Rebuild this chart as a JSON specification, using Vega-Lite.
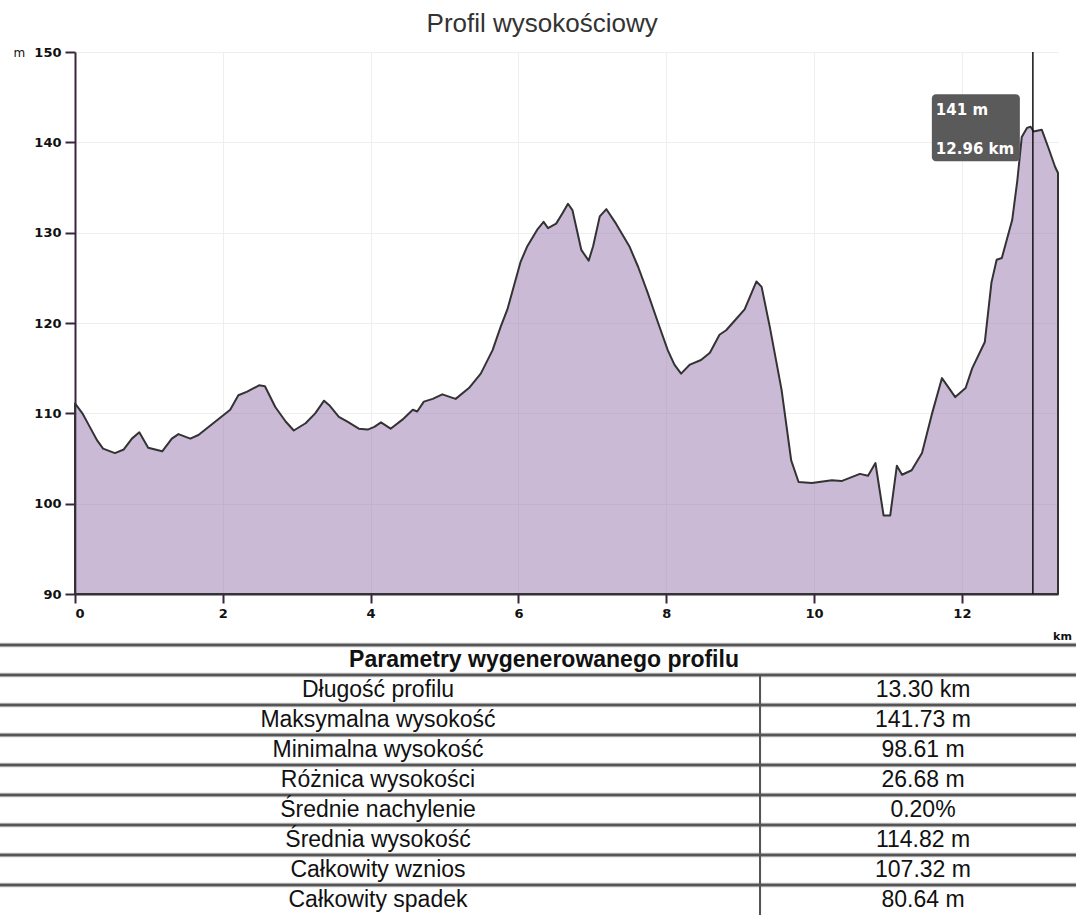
{
  "$schema": "https://vega.github.io/schema/vega-lite/v6.json",
  "padding": {"left": -3, "top": 11, "right": 0, "bottom": 0},
  "background": "white",
  "spacing": 1,
  "config": {"view": {"stroke": null}},
  "datasets": {
    "profile": [
      {"km": 0.00, "elev": 111.1}, {"km": 0.10, "elev": 110.0}, {"km": 0.20, "elev": 108.5}, {"km": 0.30, "elev": 107.0},
      {"km": 0.38, "elev": 106.1}, {"km": 0.54, "elev": 105.6}, {"km": 0.66, "elev": 106.0}, {"km": 0.77, "elev": 107.2},
      {"km": 0.87, "elev": 107.9}, {"km": 0.99, "elev": 106.2}, {"km": 1.18, "elev": 105.8}, {"km": 1.31, "elev": 107.2},
      {"km": 1.40, "elev": 107.7}, {"km": 1.56, "elev": 107.2}, {"km": 1.67, "elev": 107.6}, {"km": 1.90, "elev": 109.1},
      {"km": 2.10, "elev": 110.4}, {"km": 2.21, "elev": 112.0}, {"km": 2.33, "elev": 112.4}, {"km": 2.49, "elev": 113.1},
      {"km": 2.57, "elev": 113.0}, {"km": 2.71, "elev": 110.7}, {"km": 2.85, "elev": 109.1}, {"km": 2.96, "elev": 108.1},
      {"km": 3.12, "elev": 108.9}, {"km": 3.25, "elev": 110.0}, {"km": 3.37, "elev": 111.4}, {"km": 3.44, "elev": 110.9},
      {"km": 3.57, "elev": 109.6}, {"km": 3.68, "elev": 109.1}, {"km": 3.84, "elev": 108.3}, {"km": 3.96, "elev": 108.2},
      {"km": 4.05, "elev": 108.5}, {"km": 4.14, "elev": 109.0}, {"km": 4.27, "elev": 108.3}, {"km": 4.43, "elev": 109.3},
      {"km": 4.57, "elev": 110.4}, {"km": 4.63, "elev": 110.2}, {"km": 4.72, "elev": 111.3}, {"km": 4.84, "elev": 111.6},
      {"km": 4.97, "elev": 112.1}, {"km": 5.15, "elev": 111.6}, {"km": 5.33, "elev": 112.8}, {"km": 5.49, "elev": 114.4},
      {"km": 5.65, "elev": 117.0}, {"km": 5.76, "elev": 119.6}, {"km": 5.85, "elev": 121.5}, {"km": 6.03, "elev": 126.8},
      {"km": 6.12, "elev": 128.5}, {"km": 6.26, "elev": 130.4}, {"km": 6.34, "elev": 131.2}, {"km": 6.40, "elev": 130.5},
      {"km": 6.51, "elev": 131.0}, {"km": 6.60, "elev": 132.2}, {"km": 6.67, "elev": 133.2}, {"km": 6.73, "elev": 132.5},
      {"km": 6.85, "elev": 128.1}, {"km": 6.95, "elev": 126.9}, {"km": 7.01, "elev": 128.5}, {"km": 7.10, "elev": 131.8},
      {"km": 7.19, "elev": 132.6}, {"km": 7.32, "elev": 131.0}, {"km": 7.50, "elev": 128.5}, {"km": 7.62, "elev": 126.2},
      {"km": 7.75, "elev": 123.3}, {"km": 7.89, "elev": 120.0}, {"km": 8.02, "elev": 117.0}, {"km": 8.11, "elev": 115.4},
      {"km": 8.20, "elev": 114.4}, {"km": 8.32, "elev": 115.4}, {"km": 8.47, "elev": 115.9}, {"km": 8.59, "elev": 116.7},
      {"km": 8.72, "elev": 118.7}, {"km": 8.81, "elev": 119.2}, {"km": 8.93, "elev": 120.3}, {"km": 9.06, "elev": 121.5},
      {"km": 9.22, "elev": 124.6}, {"km": 9.29, "elev": 124.0}, {"km": 9.40, "elev": 119.6}, {"km": 9.56, "elev": 112.6},
      {"km": 9.69, "elev": 104.8}, {"km": 9.79, "elev": 102.4}, {"km": 9.97, "elev": 102.3}, {"km": 10.24, "elev": 102.6},
      {"km": 10.37, "elev": 102.5}, {"km": 10.62, "elev": 103.3}, {"km": 10.73, "elev": 103.1}, {"km": 10.83, "elev": 104.5},
      {"km": 10.94, "elev": 98.7}, {"km": 11.03, "elev": 98.7}, {"km": 11.12, "elev": 104.2}, {"km": 11.19, "elev": 103.2},
      {"km": 11.32, "elev": 103.7}, {"km": 11.46, "elev": 105.6}, {"km": 11.59, "elev": 109.8}, {"km": 11.73, "elev": 113.9},
      {"km": 11.91, "elev": 111.8}, {"km": 12.05, "elev": 112.8}, {"km": 12.14, "elev": 115.0}, {"km": 12.31, "elev": 117.9},
      {"km": 12.40, "elev": 124.5}, {"km": 12.47, "elev": 127.0}, {"km": 12.54, "elev": 127.2}, {"km": 12.68, "elev": 131.4},
      {"km": 12.75, "elev": 135.8}, {"km": 12.81, "elev": 140.6}, {"km": 12.88, "elev": 141.6}, {"km": 12.93, "elev": 141.73},
      {"km": 12.97, "elev": 141.2}, {"km": 13.08, "elev": 141.4}, {"km": 13.17, "elev": 139.4}, {"km": 13.26, "elev": 137.3},
      {"km": 13.30, "elev": 136.6}
    ],
    "hover": [
      {"km": 12.96, "elev": 141, "hlab": "141 m", "dlab": "12.96 km"}
    ],
    "table": [
      {"param": "Parametry wygenerowanego profilu", "val": "", "kind": "header"},
      {"param": "Długość profilu", "val": "13.30 km", "kind": "row"},
      {"param": "Maksymalna wysokość", "val": "141.73 m", "kind": "row"},
      {"param": "Minimalna wysokość", "val": "98.61 m", "kind": "row"},
      {"param": "Różnica wysokości", "val": "26.68 m", "kind": "row"},
      {"param": "Średnie nachylenie", "val": "0.20%", "kind": "row"},
      {"param": "Średnia wysokość", "val": "114.82 m", "kind": "row"},
      {"param": "Całkowity wznios", "val": "107.32 m", "kind": "row"},
      {"param": "Całkowity spadek", "val": "80.64 m", "kind": "row"}
    ]
  },
  "vconcat": [
    {
      "width": 983,
      "height": 542,
      "title": {
        "text": "Profil wysokościowy",
        "font": "Liberation Sans",
        "fontSize": 26,
        "fontWeight": "normal",
        "color": "#333333",
        "anchor": "middle",
        "frame": "bounds",
        "baseline": "alphabetic",
        "offset": -12
      },
      "layer": [
        {
          "data": {"name": "profile"},
          "mark": {"type": "area", "fill": "#a082b4", "fillOpacity": 0.55, "stroke": "#333333", "strokeWidth": 2, "strokeJoin": "round"},
          "encoding": {
            "x": {
              "field": "km", "type": "quantitative",
              "scale": {"domain": [0, 13.3], "nice": false, "zero": false},
              "axis": {
                "values": [0, 2, 4, 6, 8, 10, 12],
                "format": "d",
                "title": "km",
                "titleX": 987, "titleY": 42, "titleAlign": "center", "titleBaseline": "middle",
                "titleFont": "DejaVu Sans", "titleFontSize": 11, "titleFontWeight": "bold", "titleColor": "#111",
                "labelFont": "DejaVu Sans", "labelFontSize": 13, "labelFontWeight": "bold", "labelColor": "#111",
                "labelPadding": 4,
                "domainColor": "#3b2440", "domainWidth": 2,
                "tickColor": "#3b2440", "tickWidth": 2, "tickSize": 9,
                "grid": true, "gridColor": "#eeeeee", "gridWidth": 1
              }
            },
            "y": {
              "field": "elev", "type": "quantitative",
              "scale": {"domain": [90, 150], "nice": false, "zero": false},
              "axis": {
                "values": [90, 100, 110, 120, 130, 140, 150],
                "title": "m",
                "titleAngle": 0, "titleX": -62, "titleY": 0, "titleAlign": "left", "titleBaseline": "middle",
                "titleFont": "DejaVu Sans", "titleFontSize": 12, "titleFontWeight": "normal", "titleColor": "#111",
                "labelFont": "DejaVu Sans", "labelFontSize": 13, "labelFontWeight": "bold", "labelColor": "#111",
                "labelPadding": 4,
                "domainColor": "#3b2440", "domainWidth": 2,
                "tickColor": "#3b2440", "tickWidth": 2, "tickSize": 10,
                "grid": true, "gridColor": "#eeeeee", "gridWidth": 1
              }
            },
            "y2": {"datum": 90}
          }
        },
        {
          "data": {"name": "hover"},
          "mark": {"type": "rule", "color": "#111111", "strokeWidth": 1.5},
          "encoding": {
            "x": {"field": "km", "type": "quantitative"}
          }
        },
        {
          "data": {"name": "hover"},
          "mark": {"type": "rect", "fill": "#5a5a5a", "cornerRadius": 4, "xOffset": -101, "x2Offset": -13, "yOffset": -39, "y2Offset": 28},
          "encoding": {
            "x": {"field": "km", "type": "quantitative"},
            "x2": {"field": "km"},
            "y": {"field": "elev", "type": "quantitative"},
            "y2": {"field": "elev"}
          }
        },
        {
          "data": {"name": "hover"},
          "mark": {"type": "text", "color": "white", "font": "DejaVu Sans", "fontSize": 15, "fontWeight": "bold", "align": "left", "baseline": "middle", "dx": -97, "dy": -23},
          "encoding": {
            "x": {"field": "km", "type": "quantitative"},
            "y": {"field": "elev", "type": "quantitative"},
            "text": {"field": "hlab"}
          }
        },
        {
          "data": {"name": "hover"},
          "mark": {"type": "text", "color": "white", "font": "DejaVu Sans", "fontSize": 15, "fontWeight": "bold", "align": "left", "baseline": "middle", "dx": -97, "dy": 16},
          "encoding": {
            "x": {"field": "km", "type": "quantitative"},
            "y": {"field": "elev", "type": "quantitative"},
            "text": {"field": "dlab"}
          }
        }
      ]
    },
    {
      "width": 983,
      "height": 270,
      "data": {"name": "table"},
      "layer": [
        {
          "mark": {"type": "rule", "color": "#bdbdbd", "strokeWidth": 4.5},
          "encoding": {
            "y": {"field": "param", "type": "nominal", "sort": null, "bandPosition": 0, "axis": null,
                  "scale": {"type": "band", "paddingInner": 0, "paddingOuter": 0}},
            "x": {"datum": 0, "type": "quantitative", "axis": null,
                  "scale": {"domain": [0.069703, 0.983271], "nice": false, "zero": false}},
            "x2": {"datum": 1}
          }
        },
        {
          "mark": {"type": "rule", "color": "#555555", "strokeWidth": 2.5},
          "encoding": {
            "y": {"field": "param", "type": "nominal", "sort": null, "bandPosition": 0},
            "x": {"datum": 0, "type": "quantitative"},
            "x2": {"datum": 1}
          }
        },
        {
          "transform": [{"filter": "datum.kind == 'row'"}],
          "mark": {"type": "rect", "color": "#555555"},
          "encoding": {
            "y": {"field": "param", "type": "nominal", "sort": null},
            "x": {"datum": 0.7054, "type": "quantitative"},
            "x2": {"datum": 0.7073}
          }
        },
        {
          "transform": [{"filter": "datum.kind == 'header'"}],
          "mark": {"type": "text", "font": "Liberation Sans", "fontSize": 23, "fontWeight": "bold", "color": "#111111", "align": "center", "baseline": "middle"},
          "encoding": {
            "y": {"field": "param", "type": "nominal", "sort": null},
            "x": {"datum": 0.5056, "type": "quantitative"},
            "text": {"field": "param"}
          }
        },
        {
          "transform": [{"filter": "datum.kind == 'row'"}],
          "mark": {"type": "text", "font": "Liberation Sans", "fontSize": 23, "color": "#111111", "align": "center", "baseline": "middle"},
          "encoding": {
            "y": {"field": "param", "type": "nominal", "sort": null},
            "x": {"datum": 0.3513, "type": "quantitative"},
            "text": {"field": "param"}
          }
        },
        {
          "transform": [{"filter": "datum.kind == 'row'"}],
          "mark": {"type": "text", "font": "Liberation Sans", "fontSize": 23, "color": "#111111", "align": "center", "baseline": "middle"},
          "encoding": {
            "y": {"field": "param", "type": "nominal", "sort": null},
            "x": {"datum": 0.8578, "type": "quantitative"},
            "text": {"field": "val"}
          }
        }
      ]
    }
  ]
}
